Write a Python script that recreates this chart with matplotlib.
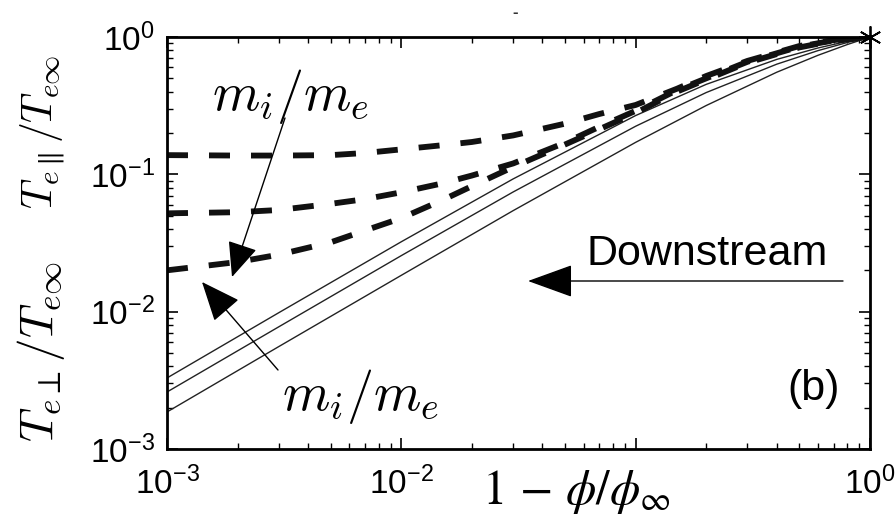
import matplotlib
matplotlib.use("Agg")
import matplotlib.pyplot as plt
from matplotlib.ticker import LogLocator, FixedLocator, FixedFormatter, NullFormatter

plt.rcParams['font.family'] = ['Liberation Sans', 'DejaVu Sans']
plt.rcParams['mathtext.fontset'] = 'custom'
plt.rcParams['mathtext.rm'] = 'Liberation Sans'
plt.rcParams['mathtext.it'] = 'Liberation Sans:italic'
plt.rcParams['mathtext.bf'] = 'Liberation Sans:bold'

# ---- data ----
x_dash = [1e-3, 2e-3, 3e-3, 5e-3, 7e-3, 1e-2, 1.5e-2, 2e-2, 3e-2, 5e-2, 7e-2,
          0.1, 0.15, 0.2, 0.3, 0.5, 0.7, 1.0]
t_par_1 = [0.138, 0.137, 0.137, 0.138, 0.143, 0.152, 0.163, 0.172, 0.192, 0.234, 0.275,
           0.32, 0.42, 0.52, 0.67, 0.86, 0.95, 1.0]
t_par_2 = [0.052, 0.053, 0.055, 0.061, 0.066, 0.074, 0.086, 0.098, 0.12, 0.17, 0.222,
           0.29, 0.41, 0.50, 0.66, 0.85, 0.945, 1.0]
t_par_3 = [0.020, 0.023, 0.026, 0.032, 0.039, 0.048, 0.065, 0.082, 0.113, 0.165, 0.213,
           0.28, 0.40, 0.49, 0.65, 0.84, 0.94, 1.0]

x_solid = [1e-3, 3e-3, 1e-2, 3e-2, 0.1, 0.2, 0.4, 0.6, 0.8, 1.0]
t_perp_1 = [0.00329, 0.00983, 0.0323, 0.0926, 0.268, 0.452, 0.687, 0.832, 0.930, 1.0]
t_perp_2 = [0.0026, 0.00776, 0.0256, 0.0744, 0.224, 0.394, 0.634, 0.796, 0.912, 1.0]
t_perp_3 = [0.00186, 0.00557, 0.0184, 0.0544, 0.171, 0.317, 0.554, 0.736, 0.881, 1.0]

star_x = [1.0]
star_y = [1.0]

x_tick_vals = [1e-3, 1e-2, 1e-1, 1e0]
x_tick_labels = [r'$10^{-3}$', r'$10^{-2}$', '', r'$10^{0}$']
y_tick_vals = [1e-3, 1e-2, 1e-1, 1e0]
y_tick_labels = [r'$10^{-3}$', r'$10^{-2}$', r'$10^{-1}$', r'$10^{0}$']

W, H = 896, 516
fig = plt.figure(figsize=(W / 100, H / 100), dpi=100)
L, R, T, B = 167, 870, 37, 449
ax = fig.add_axes([L / W, 1 - B / H, (R - L) / W, (B - T) / H])

for y in (t_perp_1, t_perp_2, t_perp_3):
    ax.plot(x_solid, y, color='#222222', lw=1.0)

for y in (t_par_1, t_par_2, t_par_3):
    ax.plot(x_dash, y, color='#111111', lw=4.2, dashes=(3.6, 3.6),
            dash_capstyle='butt', solid_capstyle='butt')

ax.plot(star_x, star_y, linestyle='none', marker=(6, 2, 0), ms=16, mew=1.3,
        color='black', clip_on=False, zorder=5)

ax.set_xscale('log')
ax.set_yscale('log')
ax.set_xlim(1e-3, 1.0)
ax.set_ylim(1e-3, 1.0)

ax.xaxis.set_major_locator(FixedLocator(x_tick_vals))
ax.xaxis.set_major_formatter(FixedFormatter(x_tick_labels))
ax.yaxis.set_major_locator(FixedLocator(y_tick_vals))
ax.yaxis.set_major_formatter(FixedFormatter(y_tick_labels))
for axis in (ax.xaxis, ax.yaxis):
    axis.set_minor_locator(LogLocator(base=10, subs=range(2, 10), numticks=20))
    axis.set_minor_formatter(NullFormatter())

ax.tick_params(which='both', direction='in', top=True, right=True, colors='black')
ax.tick_params(which='major', length=8, width=1.2, labelsize=24)
ax.tick_params(which='minor', length=4, width=1.0)
ax.tick_params(axis='x', which='major', pad=13)
ax.tick_params(axis='y', which='major', pad=9)
for s in ax.spines.values():
    s.set_linewidth(2.0)


def fx(px):
    return (px - L) / (R - L)


def fy(py):
    return (B - py) / (B - T)


# annotations
ax.annotate('', xy=(fx(232), fy(277)), xytext=(fx(285), fy(118)),
            xycoords='axes fraction', textcoords='axes fraction',
            arrowprops=dict(arrowstyle='-|>,head_length=2.2,head_width=0.95',
                            mutation_scale=10, lw=1.0, color='black',
                            shrinkA=0, shrinkB=0))
ax.annotate('', xy=(fx(202), fy(282)), xytext=(fx(278), fy(370)),
            xycoords='axes fraction', textcoords='axes fraction',
            arrowprops=dict(arrowstyle='-|>,head_length=2.5,head_width=1.05',
                            mutation_scale=10, lw=1.0, color='black',
                            shrinkA=0, shrinkB=0))
ax.annotate('', xy=(fx(528), fy(281)), xytext=(fx(843), fy(281)),
            xycoords='axes fraction', textcoords='axes fraction',
            arrowprops=dict(arrowstyle='-|>,head_length=2.9,head_width=1.05',
                            mutation_scale=10, lw=1.0, color='black',
                            shrinkA=0, shrinkB=0))

ax.text(fx(291), fy(96), r'$m_i/m_e$', transform=ax.transAxes, ha='center',
        va='center', fontsize=39, math_fontfamily='cm')
ax.text(fx(361), fy(397), r'$m_i/m_e$', transform=ax.transAxes, ha='center',
        va='center', fontsize=39, math_fontfamily='cm')
ax.text(fx(707), fy(254), 'Downstream', transform=ax.transAxes, ha='center',
        va='center', fontsize=31)
ax.text(fx(814), fy(389), '(b)', transform=ax.transAxes, ha='center',
        va='center', fontsize=31)

# y labels (two parts)
fig.text(43 / W, 1 - 132 / H, r'$T_{e\parallel}/T_{e\infty}$', rotation=90,
         ha='center', va='center', fontsize=30, math_fontfamily='cm')
fig.text(41 / W, 1 - 352 / H, r'$T_{e\perp}/T_{e\infty}$', rotation=90,
         ha='center', va='center', fontsize=34, math_fontfamily='cm')

# x label
fig.text(576 / W, 1 - 492 / H, r'$1\,-\,\phi/\phi_{\infty}$', ha='center',
         va='center', fontsize=35, math_fontfamily='stix')

# small clipped mark at the top
fig.text(515 / W, 1 - 12 / H, '-', ha='center', va='center', fontsize=12,
         fontweight='bold', color='#333333')

fig.savefig('out.png', dpi=100)
